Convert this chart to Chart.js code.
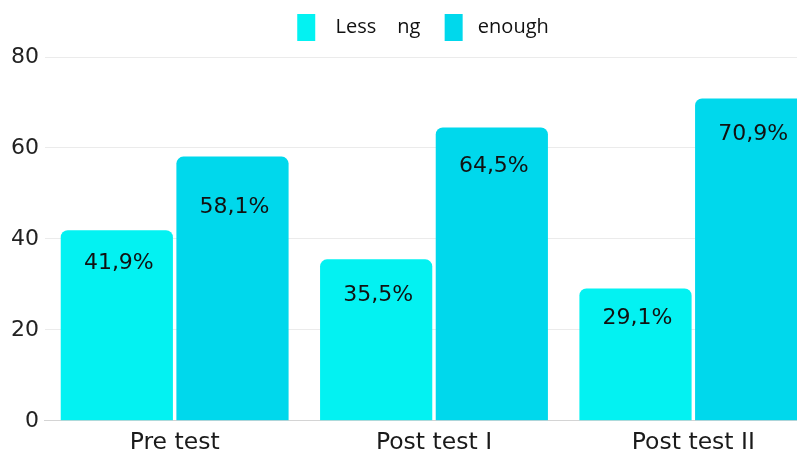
<!DOCTYPE html>
<html lang="en">
<head>
    <meta charset="UTF-8" />
    <title>Pre test / Post test</title>
    <script src="https://cdn.jsdelivr.net/npm/chart.js"></script>
    <style>
        html, body { margin: 0; padding: 0; background: #fff; overflow: hidden; }
        #wrap { width: 797px; height: 450px; overflow: hidden; }
    </style>
</head>
<body>
    <div id="wrap"><canvas id="testChart" width="823" height="457"></canvas></div>

    <script>
        const categories = ["Pre test", "Post test I", "Post test II"];
        const lessValues = [41.9, 35.5, 29.1];
        const enoughValues = [58.1, 64.5, 70.9];
        const seriesNames = ["  Less    ng  ", " enough"];
        const yTicks = [0, 20, 40, 60, 80];

        // how far below the top of each bar its label sits (px), per series
        const labelDrop = [[33, 36, 30], [51, 39, 36]];

        const barLabels = {
            id: "barLabels",
            afterLayout(chart) {
                // legend sits a little right of centre and tight to the top
                chart.legend.left += 9;
                chart.legend.right += 9;
                chart.legend.top -= 6;
                chart.legend.bottom -= 6;
            },
            // write the percentage inside each bar
            afterDatasetsDraw(chart) {
                const ctx = chart.ctx;
                ctx.save();
                ctx.font = "22px 'DejaVu Sans', sans-serif";
                ctx.fillStyle = "#111";
                ctx.textAlign = "center";
                ctx.textBaseline = "middle";
                chart.data.datasets.forEach((ds, i) => {
                    chart.getDatasetMeta(i).data.forEach((bar, j) => {
                        const txt = ds.data[j].toFixed(1).replace(".", ",") + "%";
                        ctx.fillText(txt, bar.x + 2, bar.y + labelDrop[i][j]);
                    });
                });
                ctx.restore();
            }
        };

        new Chart(document.getElementById("testChart"), {
            type: "bar",
            data: {
                labels: categories,
                datasets: [
                    {
                        label: seriesNames[0],
                        data: lessValues,
                        backgroundColor: "#03F2F2",
                        borderRadius: 7,
                        borderSkipped: "bottom"
                    },
                    {
                        label: seriesNames[1],
                        data: enoughValues,
                        backgroundColor: "#00D8EC",
                        borderRadius: 7,
                        borderSkipped: "bottom"
                    }
                ]
            },
            options: {
                responsive: false,
                animation: false,
                categoryPercentage: 0.892,
                barPercentage: 0.97,
                layout: { padding: { left: 5, top: 6, right: 0, bottom: 0 } },
                plugins: {
                    legend: {
                        position: "top",
                        labels: {
                            boxWidth: 18,
                            boxHeight: 27,
                            padding: 14,
                            color: "#111",
                            font: { family: "'Open Sans', sans-serif", size: 20 }
                        }
                    },
                    tooltip: { enabled: false }
                },
                scales: {
                    x: {
                        grid: { display: false },
                        border: { color: "#d4d4d4" },
                        ticks: {
                            color: "#1a1a1a",
                            padding: 0,
                            font: { family: "'DejaVu Sans', sans-serif", size: 23.5 }
                        }
                    },
                    y: {
                        min: 0,
                        max: 80,
                        afterBuildTicks(axis) {
                            axis.ticks = yTicks.map(v => ({ value: v }));
                        },
                        grid: { color: "#ebebeb", drawTicks: false },
                        border: { display: false },
                        ticks: {
                            color: "#222",
                            padding: 6,
                            font: { family: "'DejaVu Sans', sans-serif", size: 22 }
                        }
                    }
                }
            },
            plugins: [barLabels]
        });
    </script>
</body>
</html>
